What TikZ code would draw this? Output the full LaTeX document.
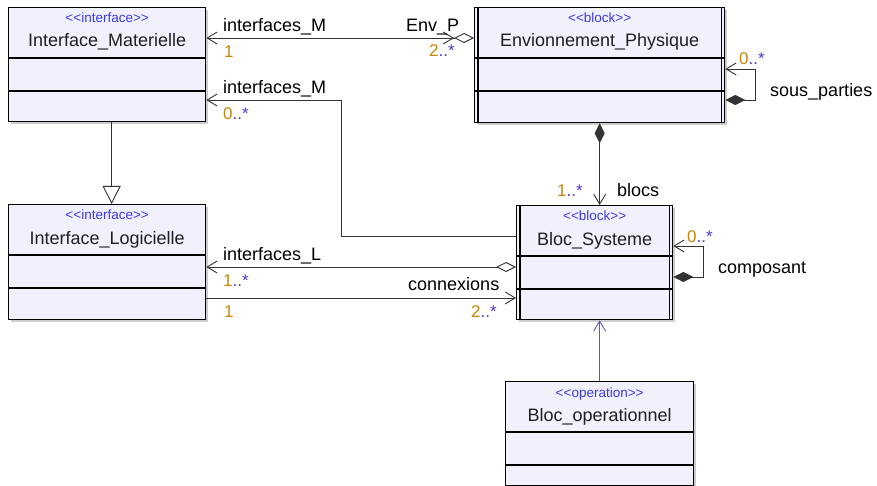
\documentclass[tikz,border=0pt]{standalone}
\usepackage{fontspec}
\setmainfont{Liberation Sans}
\usetikzlibrary{arrows.meta,calc}
\definecolor{boxfill}{RGB}{241,241,254}
\definecolor{shadowc}{RGB}{205,205,205}
\definecolor{stereoc}{RGB}{60,60,225}
\definecolor{orng}{RGB}{200,134,10}
\definecolor{mblue}{RGB}{85,55,205}
\definecolor{opline}{RGB}{90,90,185}
\newcommand\mlt[2]{\textcolor{orng}{#1}\textcolor{mblue}{#2}}
\newcommand\umlbox[8]{%
  \fill[shadowc] (#3+3,#4+3) rectangle ++(#5,#6);
  \node[cls, minimum width=#5pt, minimum height=#6pt] (#1) at (#3,#4) {};
  \node[stereo] (#1-st) at ($(#1.north)+(0,16)$) {<\kern0pt<#7>\kern0pt>};
  \node[title] (#1-nm) at ($(#1.north)+(0,40)$) {#8};
  \draw[divider] ($(#1.north west)+(0,51)$) -- ($(#1.north east)+(0,51)$);
  \draw[divider] ($(#1.north west)+(0,84)$) -- ($(#1.north east)+(0,84)$);
  \ifnum#2=1
    \draw[divider] ($(#1.north west)+(4,0)$) -- ($(#1.south west)+(4,0)$);
    \draw[divider] ($(#1.north east)+(-4,0)$) -- ($(#1.south east)+(-4,0)$);
  \fi
}
\tikzset{
  cls/.style={draw=black, line width=1.3pt, fill=boxfill, inner sep=0pt, anchor=north west},
  stereo/.style={font=\fontsize{13.5}{15}\selectfont, text=stereoc, anchor=base, inner sep=0pt},
  title/.style={font=\fontsize{18}{20}\selectfont, text=black!88, anchor=base, inner sep=0pt},
  divider/.style={draw=black, line width=1.2pt},
  conn/.style={draw=black!80, line width=0.9pt},
  lbl/.style={font=\fontsize{18}{20}\selectfont, text=black, anchor=base west, inner sep=0pt},
  mul/.style={font=\fontsize{17}{19}\selectfont, anchor=base west, inner sep=0pt},
}
\begin{document}
\begin{tikzpicture}[x=1pt,y=-1pt]
\useasboundingbox (0,0) rectangle (877,486);
\umlbox{im}{0}{8}{7}{197}{114}{interface}{Interface\_Materielle}
\umlbox{envp}{1}{474}{7}{250}{115}{block}{Envionnement\_Physique}
\umlbox{il}{0}{8}{204}{197}{115}{interface}{Interface\_Logicielle}
\umlbox{bs}{1}{516}{205}{156}{114}{block}{Bloc\_Systeme}
\umlbox{bo}{0}{505}{381}{188}{104}{operation}{Bloc\_operationnel}

% Env_P association
\draw[conn, {Straight Barb[length=10pt,width=12pt]}-{Straight Barb[length=10pt,width=12pt] Diamond[open,length=20pt,width=10pt,fill=white]}] ($(im.north east)+(0,31)$) -- ($(envp.north west)+(0,31)$);
% interfaces_M from Bloc_Systeme
\draw[conn, -{Straight Barb[length=10pt,width=12pt]}] ($(bs.north west)+(0,31)$) -| ($(im.north east)+(135,93)$) -- ($(im.north east)+(0,93)$);
% generalization
\draw[conn, -{Triangle[open,length=18pt,width=18pt,fill=white]}] ($(im.south)+(4.5,0)$) -- ($(il.north)+(4.5,0)$);
% interfaces_L
\draw[conn, {Straight Barb[length=10pt,width=12pt]}-{Diamond[open,length=20pt,width=10pt,fill=white]}] ($(il.north east)+(0,63)$) -- ($(bs.north west)+(0,62)$);
% connexions
\draw[conn, -{Straight Barb[length=10pt,width=12pt]}] ($(il.north east)+(0,94)$) -- ($(bs.north west)+(0,93)$);
% blocs
\draw[conn, {Diamond[length=20pt,width=10pt]}-{Straight Barb[length=10pt,width=12pt]}] (envp.south) -- (envp.south |- bs.north);
% sous_parties
\draw[conn, {Diamond[length=20pt,width=10pt]}-{Straight Barb[length=10pt,width=12pt]}] ($(envp.north east)+(0,93)$) -- ++(30,0) |- ($(envp.north east)+(0,62)$);
% composant
\draw[conn, {Diamond[length=20pt,width=10pt]}-{Straight Barb[length=10pt,width=12pt]}] ($(bs.north east)+(0,72)$) -- ++(30,0) |- ($(bs.north east)+(0,41)$);
% operation
\draw[draw=opline, line width=0.9pt, -{Straight Barb[length=10pt,width=12pt]}] (bo.north) -- (bo.north |- bs.south);

% labels
\node[lbl] (l1) at (223,32) {interfaces\_M};
\node[mul] (m1) at (224,58) {\mlt{1}{}};
\node[lbl] (l2) at (406,32) {Env\_P};
\node[mul] (m2) at (429,57) {\mlt{2}{..*}};
\node[lbl] (l3) at (223,94) {interfaces\_M};
\node[mul] (m3) at (223,120) {\mlt{0}{..*}};
\node[lbl] (l4) at (223,260) {interfaces\_L};
\node[mul] (m4) at (223,286) {\mlt{1}{..*}};
\node[mul] (m5) at (224,317) {\mlt{1}{}};
\node[lbl] (l5) at (408,290) {connexions};
\node[mul] (m6) at (471,317) {\mlt{2}{..*}};
\node[lbl] (l6) at (617,197) {blocs};
\node[mul] (m7) at (557,197) {\mlt{1}{..*}};
\node[mul] (m8) at (739,65) {\mlt{0}{..*}};
\node[lbl] (l7) at (770,97) {sous\_parties};
\node[mul] (m9) at (687,242) {\mlt{0}{..*}};
\node[lbl] (l8) at (718,273) {composant};
\end{tikzpicture}
\end{document}
